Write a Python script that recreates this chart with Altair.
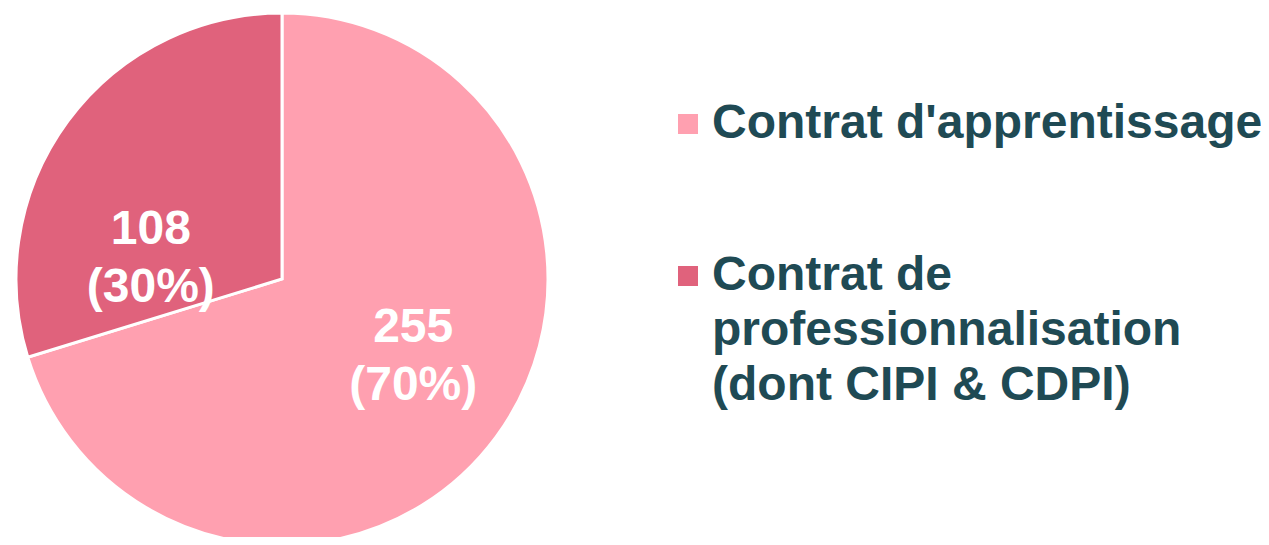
import altair as alt
import pandas as pd

categories = ["Contrat d'apprentissage", "Contrat de professionnalisation (dont CIPI & CDPI)"]
values = [255, 108]
percents = [70, 30]
colors = ["#FFA0B0", "#E0627C"]

df = pd.DataFrame({
    "categorie": categories,
    "valeur": values,
    "pct": percents,
    "ordre": [0, 1],
})

label_expr = (
    "datum.label == \"Contrat de professionnalisation (dont CIPI & CDPI)\" ? "
    "['Contrat de', 'professionnalisation', '(dont CIPI & CDPI)'] : datum.label"
)

# pie centre (layout only)
CX, CY = 274, 271

base = alt.Chart(df).encode(
    theta=alt.Theta("valeur:Q", stack=True),
    order=alt.Order("ordre:Q"),
    x=alt.value(CX),
    y=alt.value(CY),
)

arc = base.mark_arc(radius=266, stroke="white", strokeWidth=3).encode(
    color=alt.Color(
        "categorie:N",
        sort=categories,
        scale=alt.Scale(domain=categories, range=colors),
        legend=alt.Legend(
            title=None,
            orient="none",
            legendX=656,
            legendY=92,
            symbolType="square",
            symbolSize=400,
            symbolStrokeWidth=0,
            labelFont="Liberation Sans",
            labelFontWeight="bold",
            labelFontSize=48,
            labelColor="#1F4A54",
            labelLimit=700,
            labelOffset=0,
            rowPadding=104,
            padding=0,
            labelExpr=label_expr,
        ),
    )
)

text = base.transform_calculate(
    lbl="datum.valeur + '\\n(' + datum.pct + '%)'"
).mark_text(
    radius=140,
    thetaOffset=-0.28,
    font="Liberation Sans",
    fontWeight="bold",
    fontSize=48,
    lineHeight=58,
    lineBreak="\n",
    color="white",
).encode(text="lbl:N")

chart = (
    alt.layer(arc, text)
    .properties(
        width=1253,
        height=529,
        padding=0,
        autosize=alt.AutoSizeParams(type="none"),
    )
    .configure(style={"guide-label": {"lineHeight": 55}})
    .configure_view(stroke=None)
)

chart.save("out.html", embed_options={"renderer": "svg", "actions": False})
